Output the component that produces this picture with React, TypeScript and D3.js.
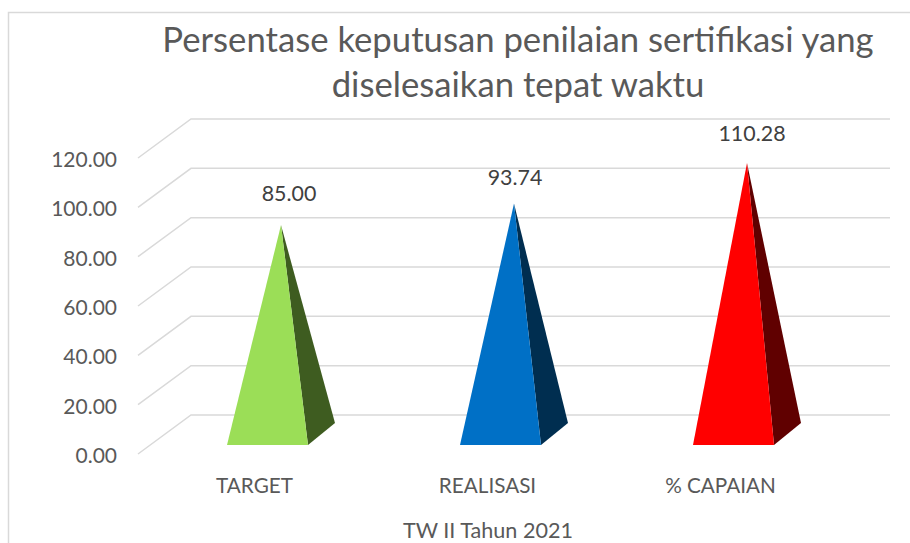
import React from "react";
import * as d3 from "d3";

const categories = ["TARGET", "REALISASI", "% CAPAIAN"];
const values = [85.0, 93.74, 110.28];
const valueLabels = ["85.00", "93.74", "110.28"];
const axisTicks = [0, 20, 40, 60, 80, 100, 120];
const frontColors = ["#9BDE57", "#0070C6", "#FF0000"];
const sideColors = ["#3E5C20", "#002E50", "#600000"];
const titleLines = ["Persentase keputusan penilaian sertifikasi yang", "diselesaikan tepat waktu"];
const xAxisTitle = "TW II Tahun 2021";

const labelNudgeX = [8, 1, 5];
const labelNudgeY = [24, 19, 22];

const FONT = "Lato, 'Open Sans', sans-serif";
const W = 910;
const H = 543;
const backBase = 415;
const backLeft = 191;
const backRight = 890;
const wallDx = 53;
const wallDy = 39;
const barW = 81;
const barDx = 27;
const barDy = 22;
const baseFrontY = 445;

export default function App() {
  // value -> vertical rise above the floor
  const riseGrid = d3.scaleLinear().domain([0, 120]).range([0, 296]);
  const riseBar = d3.scaleLinear().domain([0, 120]).range([0, 295]);
  const x = d3
    .scaleBand<string>()
    .domain(categories)
    .range([151, 850])
    .paddingInner(0)
    .paddingOuter(0);
  const line = d3.line();
  const poly = (pts: [number, number][]) => line(pts) + "Z";

  return (
    <svg
      width={W}
      height={H}
      viewBox={`0 0 ${W} ${H}`}
      style={{ position: "absolute", left: 0, top: 0, background: "#fff" }}
      fontFamily={FONT}
    >
      <path d={`M8.5,${H}V12.5H${W}`} fill="none" stroke="#d9d9d9" strokeWidth={1.5} />

      {titleLines.map((t, i) => (
        <text key={t} x={518} y={52 + i * 45} textAnchor="middle" fontSize={34.7} fill="#595959">
          {t}
        </text>
      ))}

      {axisTicks.map((t) => {
        const yBack = backBase - riseGrid(t);
        return (
          <g key={t}>
            <path
              d={line([
                [backLeft - wallDx, yBack + wallDy],
                [backLeft, yBack],
                [backRight, yBack],
              ])!}
              fill="none"
              stroke="#d9d9d9"
              strokeWidth={1.5}
            />
            <text x={117} y={yBack + 48} textAnchor="end" fontSize={21} fill="#595959">
              {t.toFixed(2)}
            </text>
          </g>
        );
      })}

      {categories.map((c, i) => {
        const left = x(c)! + (x.bandwidth() - barW) / 2;
        const right = left + barW;
        const apexX = left + (barW + barDx) / 2;
        const apexY = baseFrontY - barDy / 2 - riseBar(values[i]);
        return (
          <g key={c}>
            <path
              d={poly([
                [right, baseFrontY],
                [right + barDx, baseFrontY - barDy],
                [apexX, apexY],
              ])}
              fill={sideColors[i]}
            />
            <path
              d={poly([
                [left, baseFrontY],
                [right, baseFrontY],
                [apexX, apexY],
              ])}
              fill={frontColors[i]}
            />
            <text
              x={apexX + labelNudgeX[i]}
              y={apexY - labelNudgeY[i]}
              textAnchor="middle"
              fontSize={21.4}
              fill="#404040"
            >
              {valueLabels[i]}
            </text>
            <text x={left + 27.5} y={493} textAnchor="middle" fontSize={20.7} fill="#595959">
              {c}
            </text>
          </g>
        );
      })}

      <text x={488} y={538} textAnchor="middle" fontSize={21.6} fill="#595959">
        {xAxisTitle}
      </text>
    </svg>
  );
}
